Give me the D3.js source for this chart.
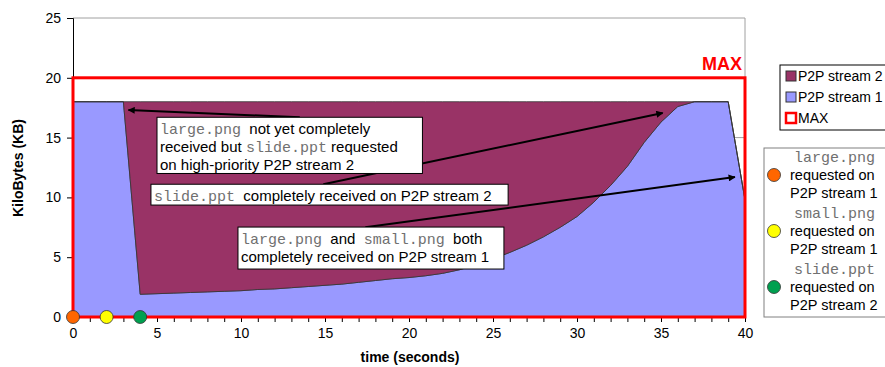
<!DOCTYPE html>
<html><head><meta charset="utf-8">
<script src="https://cdn.jsdelivr.net/npm/d3@7/dist/d3.min.js"></script>
<style>body{margin:0;background:#fff}svg{display:block}text{font-family:"Liberation Sans",Arial,sans-serif}</style>
</head><body>
<script>
const times = d3.range(0, 41);
const stream1 = [18,18,18,18,1.9,1.95,2.0,2.05,2.1,2.15,2.2,2.3,2.35,2.45,2.55,2.65,2.75,2.9,3.05,3.2,3.3,3.45,3.65,3.95,4.35,4.85,5.4,6.0,6.7,7.5,8.4,9.6,11.0,12.6,14.6,16.3,17.6,18,18,18,9.8];
const stream2 = [0,0,0,0,16.1,16.05,16.0,15.95,15.9,15.85,15.8,15.7,15.65,15.55,15.45,15.35,15.25,15.1,14.95,14.8,14.7,14.55,14.35,14.05,13.65,13.15,12.6,12.0,11.3,10.5,9.6,8.4,7.0,5.4,3.4,1.7,0.4,0,0,0,0];
const maxLevel = 20;
const xTicks = [0,5,10,15,20,25,30,35,40];
const yTicks = [0,5,10,15,20,25];
const requestTimes = [0,2,4];
const requestColors = ["#FF6600","#FFFF00","#00A050"];
const requestFiles = ["large.png","small.png","slide.ppt"];
const requestStreams = ["P2P stream 1","P2P stream 1","P2P stream 2"];

const W=885,H=367;
const svg=d3.select("body").append("svg").attr("width",W).attr("height",H);
const x=d3.scaleLinear().domain([0,40]).range([73,745]);
const y=d3.scaleLinear().domain([0,25]).range([317,18]);

// gridlines
svg.append("g").selectAll("line").data(yTicks.filter(d=>d>0)).join("line")
  .attr("x1",x(0)).attr("x2",x(40)).attr("y1",d=>y(d)).attr("y2",d=>y(d))
  .attr("stroke","#a0a0a0").attr("stroke-width",1);
svg.append("line").attr("x1",x(40)).attr("x2",x(40)).attr("y1",y(25)).attr("y2",y(0)).attr("stroke","#a0a0a0");

const table=times.map((t,i)=>({t,s1:stream1[i],s2:stream2[i]}));
const stack=d3.stack().keys(["s1","s2"])(table);
const area=d3.area().x(d=>x(d.data.t)).y0(d=>y(d[0])).y1(d=>y(d[1]));
const colors={s1:"#9999FF",s2:"#993366"};
svg.append("g").selectAll("path").data(stack).join("path")
  .attr("d",area).attr("fill",d=>colors[d.key]).attr("stroke","#333").attr("stroke-width",0.8);

// axes
const xa=svg.append("g").attr("transform",`translate(0,${y(0)})`)
  .call(d3.axisBottom(x).tickValues(d3.range(0,41)).tickSize(5).tickFormat(d=>xTicks.includes(d)?d:""));
const ya=svg.append("g").attr("transform",`translate(${x(0)},0)`)
  .call(d3.axisLeft(y).tickValues(yTicks).tickSize(6).tickFormat(d=>d));
[xa,ya].forEach(g=>{g.selectAll("text").attr("font-size",14).attr("fill","#000").style("font-family","Liberation Sans, Arial");
  g.selectAll("line").attr("stroke","#000");g.select(".domain").attr("stroke","#000");});
xa.selectAll("text").attr("dy","0.9em").attr("y",8);
ya.selectAll("text").attr("x",-12);

// MAX rect
svg.append("rect").attr("x",x(0)).attr("y",y(maxLevel)).attr("width",x(40)-x(0)).attr("height",y(0)-y(maxLevel))
  .attr("fill","none").attr("stroke","#FF0000").attr("stroke-width",3);
svg.append("text").attr("x",x(40)-3).attr("y",y(maxLevel)-8).attr("text-anchor","end")
  .attr("font-size",18).attr("font-weight","bold").attr("fill","#FF0000").text("MAX");

// axis titles
svg.append("text").attr("x",410).attr("y",362).attr("text-anchor","middle").attr("font-size",14).attr("font-weight","bold").text("time (seconds)");
svg.append("text").attr("transform","translate(23,168) rotate(-90)").attr("text-anchor","middle").attr("font-size",14).attr("font-weight","bold").text("KiloBytes (KB)");

// arrows
const defs=svg.append("defs");
defs.append("marker").attr("id","ah").attr("viewBox","0 0 10 10").attr("refX",9).attr("refY",5)
  .attr("markerWidth",9).attr("markerHeight",7).attr("markerUnits","userSpaceOnUse").attr("orient","auto")
  .append("path").attr("d","M0,0L10,5L0,10z").attr("fill","#000");
const arrows=[{from:[13.5,16.7],to:[3.3,17.3]},{from:[14.9,11.1],to:[35.1,17.06]},{from:[17.4,7.5],to:[39.4,11.7]}];
svg.append("g").selectAll("line").data(arrows).join("line")
  .attr("x1",d=>x(d.from[0])).attr("y1",d=>y(d.from[1])).attr("x2",d=>x(d.to[0])).attr("y2",d=>y(d.to[1]))
  .attr("stroke","#000").attr("stroke-width",2).attr("marker-end","url(#ah)");

// annotation boxes
const mono="Liberation Mono, Courier New, monospace";
const boxes=[
  {x0:5.0,y0:16.7,x1:20.8,y1:12.0,lines:[[["large.png",1],["  not yet completely",0]],[["received but ",0],["slide.ppt",1],[" requested",0]],[["on high-priority P2P stream 2",0]]]},
  {x0:4.64,y0:11.1,x1:25.9,y1:9.36,lines:[[["slide.ppt",1],["  completely received on P2P stream 2",0]]]},
  {x0:9.82,y0:7.52,x1:25.65,y1:4.01,lines:[[["large.png",1],["  and  ",0],["small.png",1],["  both",0]],[["completely received on P2P stream 1",0]]]}
];
boxes.forEach(b=>{
  const g=svg.append("g");
  g.append("rect").attr("x",x(b.x0)).attr("y",y(b.y0)).attr("width",x(b.x1)-x(b.x0)).attr("height",y(b.y1)-y(b.y0))
    .attr("fill","#fff").attr("stroke","#000").attr("stroke-width",1);
  b.lines.forEach((ln,i)=>{
    const t=g.append("text").attr("x",x(b.x0)+3).attr("y",y(b.y0)+16.5+i*18).attr("font-size",15).attr("xml:space","preserve").style("white-space","pre");
    ln.forEach(([s,m])=>t.append("tspan").text(s).attr("fill",m?"#707070":"#000").attr("font-size",15).style("font-family",m?mono:"Liberation Sans, Arial"));
  });
});

// request markers
svg.append("g").selectAll("circle").data(requestTimes).join("circle")
  .attr("cx",d=>x(d)).attr("cy",y(0)).attr("r",6.5).attr("fill",(d,i)=>requestColors[i]).attr("stroke","#333").attr("stroke-width",0.8);

// legend 1
const lg=svg.append("g");
lg.append("rect").attr("x",780).attr("y",65).attr("width",110).attr("height",65).attr("fill","#fff").attr("stroke","#000");
const l1=[{k:"P2P stream 2",c:"#993366",s:"#333",w:1},{k:"P2P stream 1",c:"#9999FF",s:"#333",w:1},{k:"MAX",c:"#fff",s:"#FF0000",w:2.5}];
l1.forEach((d,i)=>{
  const cy=76+i*21;
  lg.append("rect").attr("x",786).attr("y",cy-5).attr("width",10).attr("height",10).attr("fill",d.c).attr("stroke",d.s).attr("stroke-width",d.w);
  lg.append("text").attr("x",798).attr("y",cy+5).attr("font-size",14).text(d.k);
});
// legend 2
const lg2=svg.append("g");
lg2.append("rect").attr("x",764).attr("y",148).attr("width",126).attr("height",169).attr("fill","#fff").attr("stroke","#808080");
requestTimes.forEach((d,i)=>{
  const cy=175+i*56;
  lg2.append("circle").attr("cx",774).attr("cy",cy).attr("r",6.5).attr("fill",requestColors[i]).attr("stroke","#333").attr("stroke-width",0.8);
  lg2.append("text").attr("x",794).attr("y",cy-13).attr("font-size",15).attr("fill","#707070").style("font-family",mono).text(requestFiles[i]);
  lg2.append("text").attr("x",790).attr("y",cy+5).attr("font-size",14.5).text("requested on");
  lg2.append("text").attr("x",790).attr("y",cy+23).attr("font-size",14.5).text(requestStreams[i]);
});
</script>
</body></html>
